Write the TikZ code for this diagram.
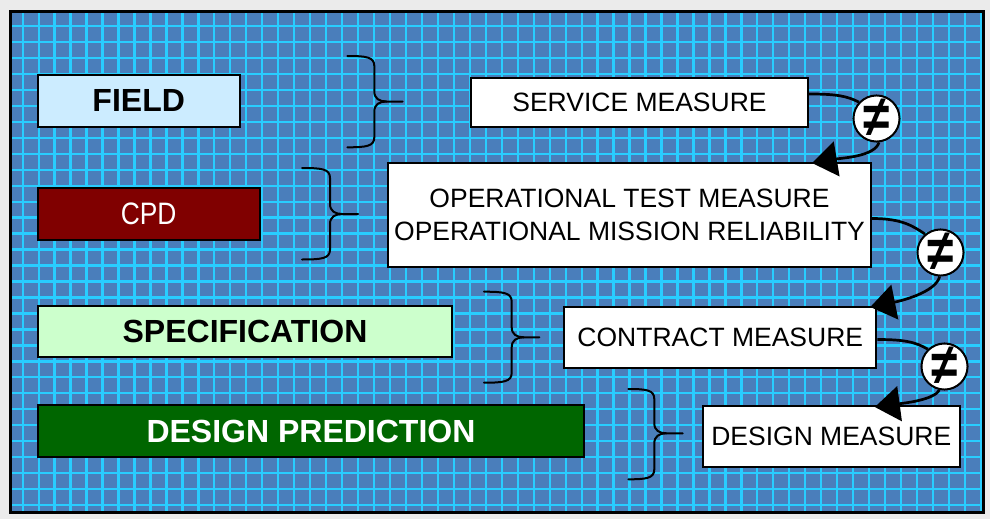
\documentclass[tikz,border=0pt]{standalone}
\usepackage{fontspec}
\setmainfont{Liberation Sans}
\newfontfamily\narrowsans[FakeStretch=0.85]{Liberation Sans}
\usetikzlibrary{arrows.meta,calc}

\definecolor{pagegray}{RGB}{235,235,235}
\definecolor{panelblue}{RGB}{74,126,187}
\definecolor{gridcyan}{RGB}{40,205,255}
\definecolor{fieldblue}{RGB}{204,236,255}
\definecolor{cpdred}{RGB}{128,0,0}
\definecolor{specgreen}{RGB}{204,255,204}
\definecolor{designgreen}{RGB}{0,102,0}

\tikzset{
  gridline/.style={gridcyan, line width=2.3pt},
  levelbox/.style={draw=black, line width=2pt, inner sep=0pt, anchor=center},
  measurebox/.style={levelbox, fill=white, text=black,
    font=\fontsize{26.5}{33}\selectfont, align=center},
  boldlabel/.style={font=\fontsize{32}{37}\selectfont\bfseries},
  bracestroke/.style={draw=black, line width=2pt, line cap=round},
  neqdot/.style={circle, draw=black, fill=white, line width=2pt,
    inner sep=0pt, minimum size=45pt, font=\fontsize{40}{40}\selectfont\bfseries},
  link/.style={draw=black, line width=2.7pt},
  bigtip/.style={-{Triangle[length=25pt,width=35pt]}}
}

% curly brace: left end x, spine x, tip x, top y, middle y, bottom y
\newcommand\drawcurly[6]{%
  \draw[bracestroke] (#1,#4) .. controls (#2-8,#4) and (#2,#4+1) .. (#2,#4+10)
    -- (#2,#5-10) .. controls (#2,#5-3) and (#2+5,#5) .. (#2+12,#5) -- (#3,#5);
  \draw[bracestroke] (#1,#6) .. controls (#2-8,#6) and (#2,#6-1) .. (#2,#6-10)
    -- (#2,#5+10) .. controls (#2,#5+3) and (#2+5,#5) .. (#2+12,#5);
}
\newcommand\neqsign{\raisebox{0.5pt}{\scalebox{1.2}[1.45]{≠}}}

\begin{document}
\begin{tikzpicture}[x=1pt,y=-1pt]
  \useasboundingbox (0,0) rectangle (990,519);
  \fill[pagegray] (0,0) rectangle (990,519);

  % blue panel with its cyan grid
  \fill[panelblue] (10,12) rectangle (983.5,512);
  \begin{scope}
    \clip (10,12) rectangle (983.5,512);
    \foreach \i in {0,...,60} \draw[gridline] ({22.7+15.97*\i},12) -- ({22.7+15.97*\i},512);
    \foreach \j in {0,...,30} \draw[gridline] (10,{26+15.97*\j}) -- (983.5,{26+15.97*\j});
  \end{scope}
  \draw[black, line width=3pt] (10,12) rectangle (983.5,512);

  % level boxes on the left
  \node[levelbox, fill=fieldblue, minimum width=202pt, minimum height=52pt, boldlabel]
    (field) at (138.7,100.7) {FIELD};
  \node[levelbox, fill=cpdred, text=white, minimum width=222pt, minimum height=52pt,
    font=\fontsize{31}{36}\selectfont\narrowsans]
    (cpd) at (148.7,214.3) {CPD};
  \node[levelbox, fill=specgreen, minimum width=414pt, minimum height=51pt, boldlabel]
    (spec) at (245,331) {SPECIFICATION};
  \node[levelbox, fill=designgreen, text=white, minimum width=546pt, minimum height=52pt, boldlabel]
    (dpred) at (311,431.3) {DESIGN PREDICTION};

  % measure boxes on the right
  \node[measurebox, minimum width=337pt, minimum height=49pt]
    (svc) at (639.5,102.5) {SERVICE MEASURE};
  \node[measurebox, minimum width=483pt, minimum height=104pt]
    (opt) at (629.5,215) {OPERATIONAL TEST MEASURE\\OPERATIONAL MISSION RELIABILITY};
  \node[measurebox, minimum width=312pt, minimum height=61pt]
    (contr) at (720.3,337.5) {CONTRACT MEASURE};
  \node[measurebox, minimum width=257pt, minimum height=61pt]
    (dmeas) at (831.3,436.5) {DESIGN MEASURE};

  % braces between the columns
  \drawcurly{347.3}{374.3}{402.7}{56}{101.5}{147.3}
  \drawcurly{302}{330}{358}{168}{214}{259.5}
  \drawcurly{484}{511.7}{539.3}{291.7}{337.3}{382.7}
  \drawcurly{628.3}{654.3}{682.7}{389}{433.3}{479.3}

  % "not equal" markers
  \node[neqdot] (neq1) at (876.5,118.5) {\neqsign};
  \node[neqdot] (neq2) at (940.5,252.5) {\neqsign};
  \node[neqdot] (neq3) at (944.5,366.5) {\neqsign};

  % links from one measure to the next
  \draw[link] ($(svc.east)+(0,-8.5)$) .. controls +(28,0) and +(-12,-6) .. (neq1.137);
  \draw[link, bigtip] (neq1.-84) .. controls +(-4,14) and +(30,-5) .. ($(opt.north east)+(-60,1)$);

  \draw[link] ($(opt.east)+(0,3.5)$) .. controls +(30,0) and +(-12,-8) .. (neq2.130);
  \draw[link, bigtip] (neq2.-92) .. controls +(-4,16) and +(30,-6) .. ($(contr.north east)+(-7,1)$);

  \draw[link] ($(contr.east)+(0,2)$) .. controls +(28,0) and +(-12,-7) .. (neq3.134);
  \draw[link, bigtip] (neq3.-102) .. controls +(-6,10) and +(30,-4) .. ($(dmeas.north west)+(173,2)$);
\end{tikzpicture}
\end{document}
